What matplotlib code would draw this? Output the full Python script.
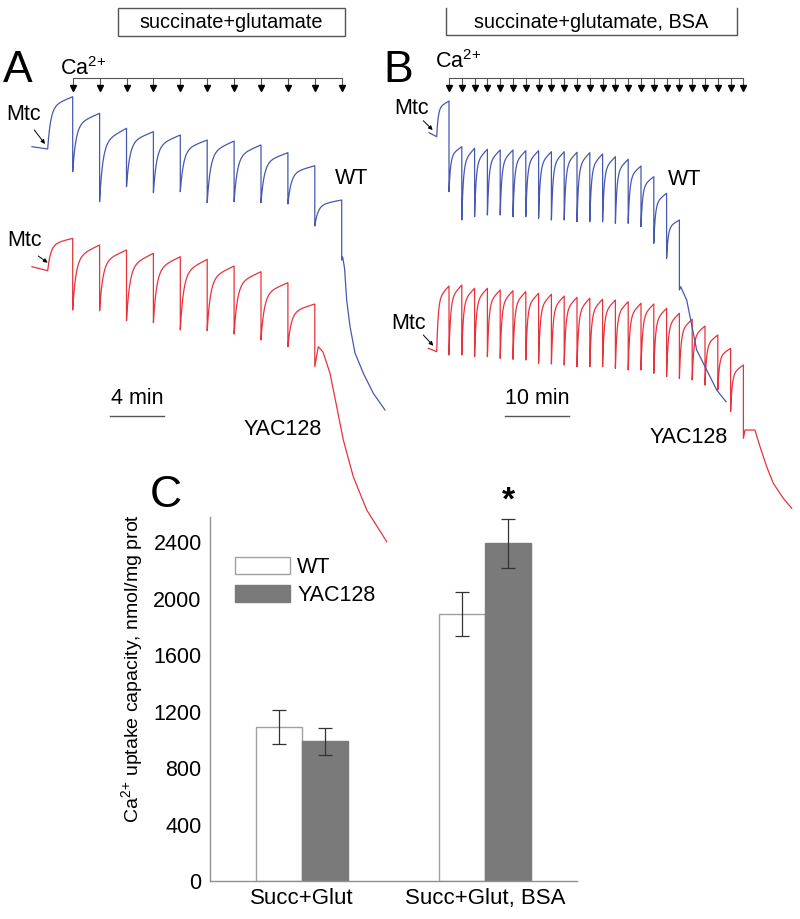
import numpy as np
import matplotlib
matplotlib.use("Agg")
import matplotlib.pyplot as plt
from matplotlib.patches import Rectangle
from matplotlib.lines import Line2D

plt.rcParams['font.family'] = ['Liberation Sans', 'DejaVu Sans']
plt.rcParams['mathtext.default'] = 'regular'

BLUE = '#4658b0'
RED = '#e8323c'
CA = 'Ca$^{2}$$^{+}$'

# ---- traces (signal in arbitrary units, time in min) ----
# panel A, succinate+glutamate, Ca2+ pulse every 2 min
ca_times_a = [0, 2, 4, 6, 8, 10, 12, 14, 16, 18, 20]
wt_a_pre_t = [-3.03, -1.86]
wt_a_pre_s = [413.3, 411.0]
wt_a_peaks = [463.3, 446.7, 431.7, 428.3, 425.0, 420.0, 419.0, 415.0, 407.3, 394.3, 360.0]
wt_a_troughs = [388.3, 358.3, 373.3, 367.3, 368.3, 357.3, 358.3, 357.3, 356.0, 334.0]
wt_a_tail_t = [20.0, 20.07, 20.21, 20.37, 20.62, 20.99, 21.61, 22.35, 23.22]
wt_a_tail_s = [300.0, 303.0, 292.0, 260.0, 233.3, 207.0, 186.7, 166.7, 150.0]

yac_a_pre_t = [-3.03, -1.86]
yac_a_pre_s = [293.3, 289.3]
yac_a_peaks = [321.7, 315.0, 310.0, 306.7, 303.3, 300.7, 294.0, 288.3, 277.3, 256.0]
yac_a_troughs = [250.0, 249.3, 239.3, 237.3, 230.0, 229.3, 226.0, 220.0, 213.3]
yac_a_tail_t = [18.0, 18.26, 18.61, 19.13, 19.63, 20.12, 20.86, 21.86, 23.35]
yac_a_tail_s = [193.3, 213.3, 208.0, 186.7, 153.3, 120.0, 83.3, 50.0, 18.3]

# panel B, succinate+glutamate + BSA
ca_times_b = [0, 2, 4, 6, 8, 10, 12, 14, 16, 18, 20, 22, 24, 26, 28, 30,
              32, 34, 36, 38, 40, 42, 44, 46]
wt_b_pre_t = [-3.125, -1.92]
wt_b_pre_s = [427.3, 423.3]
wt_b_peaks = [459.0, 413.3, 411.7, 410.7, 410.0, 410.0, 409.3, 409.3, 408.3, 408.3,
              407.7, 407.3, 406.0, 403.3, 400.7, 394.0, 383.3, 366.7, 340.0]
wt_b_troughs = [368.3, 340.0, 343.3, 345.0, 345.0, 343.3, 343.3, 341.7, 340.0, 340.0,
                338.3, 338.3, 338.3, 336.7, 336.7, 333.3, 316.7, 301.7]
wt_b_tail_t = [36.0, 36.2, 37.14, 37.66, 38.7, 40.27, 41.83, 43.28]
wt_b_tail_s = [270.0, 273.3, 260.0, 243.3, 210.0, 190.0, 170.0, 158.3]

yac_b_pre_t = [-3.23, -1.92]
yac_b_pre_s = [211.7, 208.3]
yac_b_peaks = [274.0, 275.0, 271.7, 271.7, 270.0, 269.3, 268.3, 266.7, 265.7, 264.0,
               262.7, 261.7, 260.7, 260.0, 258.3, 256.7, 256.0, 251.7, 246.7, 240.7,
               234.0, 225.0, 211.7, 195.0]
yac_b_troughs = [205.0, 205.0, 203.3, 203.3, 201.7, 200.7, 200.0, 196.7, 196.0, 195.0,
                 193.3, 193.3, 193.3, 191.7, 190.0, 190.0, 186.7, 183.3, 181.7, 180.0,
                 175.0, 170.0, 148.3]
yac_b_tail_t = [46.0, 46.25, 47.8, 48.6, 49.64, 50.67, 52.23, 53.55]
yac_b_tail_s = [121.7, 130.0, 130.0, 113.3, 93.3, 76.7, 61.7, 51.7]

# ---- panel C: Ca2+ uptake capacity ----
groups = ['Succ+Glut', 'Succ+Glut, BSA']
wt_cap = [1090, 1890]
wt_err = [120, 155]
yac_cap = [990, 2390]
yac_err = [95, 175]


def recovery(u):
    # fast recovery after a pulse, then slow creep
    k = 0.12
    return 0.8 * (1 - np.exp(-u / k)) / (1 - np.exp(-1 / k)) + 0.2 * u


def build_trace(pre_t, pre_s, peaks, troughs, tail_t, tail_s, times):
    t = list(pre_t)
    s = list(pre_s)
    u = np.linspace(0, 1, 60)[1:]
    # rise after adding mitochondria
    t += list(pre_t[-1] + u * (times[0] - pre_t[-1]))
    s += list(pre_s[-1] + recovery(u) * (peaks[0] - pre_s[-1]))
    for k, tr in enumerate(troughs):
        t0, t1 = times[k], times[k + 1]
        t.append(t0)
        s.append(tr)
        t += list(t0 + u * (t1 - t0))
        s += list(tr + recovery(u) * (peaks[k + 1] - tr))
    t += list(tail_t)
    s += list(tail_s)
    return t, s


def ca_arrows(ax, times, y_line=482.5, y_tip=470.5):
    ax.plot([times[0], times[-1]], [y_line, y_line], color='#555555', lw=0.8)
    ax.vlines(times, y_tip + 2, y_line, color='#555555', lw=0.8)
    ax.plot(times, [y_tip + 2] * len(times), linestyle='none', marker='v',
            markersize=4, color='black')


def mtc_label(ax, xy_text, xy_from, xy_to):
    ax.text(xy_text[0], xy_text[1], 'Mtc', fontsize=15.5, ha='center', va='center')
    ax.annotate('', xy=xy_to, xytext=xy_from,
                arrowprops=dict(arrowstyle='-|>', lw=0.7, color='black',
                                mutation_scale=6, shrinkA=0, shrinkB=0))


fig = plt.figure(figsize=(8, 9.19), dpi=100)
H = 919.0

# panel A
axA = fig.add_axes([0, 1 - 560 / H, 0.5, 560 / H])
axA.set_xlim(-72.7 / 13.45, (400 - 72.7) / 13.45)
axA.set_ylim(0, 560)
axA.axis('off')
t, s = build_trace(wt_a_pre_t, wt_a_pre_s, wt_a_peaks, wt_a_troughs,
                   wt_a_tail_t, wt_a_tail_s, ca_times_a)
axA.plot(t, s, color=BLUE, lw=0.9)
t, s = build_trace(yac_a_pre_t, yac_a_pre_s, yac_a_peaks, yac_a_troughs,
                   yac_a_tail_t, yac_a_tail_s, ca_times_a)
axA.plot(t, s, color=RED, lw=0.9)
ca_arrows(axA, ca_times_a)
axA.text(-0.94, 485, CA, fontsize=15.5, ha='left', va='baseline')
axA.text(20.74, 381.7, 'WT', fontsize=15.5, ha='center', va='center')
axA.text(15.61, 130.7, 'YAC128', fontsize=15.5, ha='center', va='center')
mtc_label(axA, (-3.67, 445), (-2.855, 430), (-2.06, 416))
mtc_label(axA, (-3.55, 320), (-2.56, 304), (-1.86, 297.3))
axA.plot([2.77, 6.77], [144.3, 144.3], color='#555555', lw=1)
axA.text(4.77, 161, '4 min', fontsize=15.5, ha='center', va='center')

# panel B
axB = fig.add_axes([380 / 800, 1 - 560 / H, 420 / 800, 560 / H])
axB.set_xlim((380 - 449) / 6.4, (800 - 449) / 6.4)
axB.set_ylim(0, 560)
axB.axis('off')
t, s = build_trace(yac_b_pre_t, yac_b_pre_s, yac_b_peaks, yac_b_troughs,
                   yac_b_tail_t, yac_b_tail_s, ca_times_b)
axB.plot(t, s, color=RED, lw=0.9)
t, s = build_trace(wt_b_pre_t, wt_b_pre_s, wt_b_peaks, wt_b_troughs,
                   wt_b_tail_t, wt_b_tail_s, ca_times_b)
axB.plot(t, s, color=BLUE, lw=0.9)
ca_arrows(axB, ca_times_b)
axB.text(-2.19, 491.7, CA, fontsize=15.5, ha='left', va='baseline')
axB.text(36.875, 380.7, 'WT', fontsize=15.5, ha='center', va='center')
axB.text(37.39, 122.7, 'YAC128', fontsize=15.5, ha='center', va='center')
mtc_label(axB, (-5.83, 451.7), (-4.02, 439.3), (-2.55, 430))
mtc_label(axB, (-6.36, 236.7), (-4.02, 225), (-2.45, 214.3))
axB.plot([8.75, 18.75], [144, 144], color='#555555', lw=1)
axB.text(13.75, 162, '10 min', fontsize=15.5, ha='center', va='center')

# substrate boxes
fig.add_artist(Rectangle((118 / 800, 1 - 36 / H), 227 / 800, 28 / H,
                         transform=fig.transFigure, fill=False,
                         edgecolor='#555555', lw=1))
fig.text(231.5 / 800, 1 - 22 / H, 'succinate+glutamate', fontsize=14.3,
         ha='center', va='center')
fig.add_artist(Line2D([446 / 800, 446 / 800, 736.7 / 800, 736.7 / 800],
                      [1 - 8 / H, 1 - 35 / H, 1 - 35 / H, 1 - 8 / H],
                      transform=fig.transFigure, color='#555555', lw=1))
fig.text(591 / 800, 1 - 22 / H, 'succinate+glutamate, BSA', fontsize=14.3,
         ha='center', va='center')

# panel letters
fig.text(3 / 800, 1 - 82 / H, 'A', fontsize=32, va='baseline')
fig.text(383 / 800, 1 - 82 / H, 'B', fontsize=32, va='baseline')
fig.text(150 / 800, 1 - 507 / H, 'C', fontsize=32, va='baseline')

# panel C
axC = fig.add_axes([210 / 800, 1 - 881 / H, 367 / 800, 364 / H])
axC.patch.set_alpha(0)
x = np.arange(len(groups))
w = 0.25
axC.bar(x - w / 2, wt_cap, w, color='white', edgecolor='#a0a0a0', lw=1, label='WT')
axC.bar(x + w / 2, yac_cap, w, color='#7a7a7a', edgecolor='#7a7a7a', lw=1,
        label='YAC128')
axC.errorbar(x - w / 2, wt_cap, yerr=wt_err, fmt='none', ecolor='#333333',
             elinewidth=0.9, capsize=5, capthick=0.9)
axC.errorbar(x + w / 2, yac_cap, yerr=yac_err, fmt='none', ecolor='#333333',
             elinewidth=0.9, capsize=5, capthick=0.9)
axC.text(x[1] + w / 2, 2690, '*', fontsize=24, fontweight='bold',
         ha='center', va='center')
axC.set_xlim(-0.5, 1.5)
axC.set_ylim(0, 2577)
axC.set_yticks([0, 400, 800, 1200, 1600, 2000, 2400])
axC.set_xticks(x)
axC.set_xticklabels(groups, fontsize=16)
axC.tick_params(axis='y', labelsize=15.5, length=0, pad=6)
axC.tick_params(axis='x', length=0, pad=5)
for side in ['top', 'right']:
    axC.spines[side].set_visible(False)
for side in ['left', 'bottom']:
    axC.spines[side].set_color('#909090')
    axC.spines[side].set_linewidth(1)
axC.set_ylabel(CA + ' uptake capacity, nmol/mg prot', fontsize=14)
axC.yaxis.label.set_verticalalignment('center')
axC.yaxis.set_label_coords(-0.2134, 0.585)
axC.legend(loc='upper left', bbox_to_anchor=(0.068, 0.889), frameon=False,
           fontsize=15.5, handlelength=2.56, handleheight=0.84,
           handletextpad=0.34, labelspacing=0.3, borderpad=0, borderaxespad=0)

fig.savefig('out.png', dpi=100)
